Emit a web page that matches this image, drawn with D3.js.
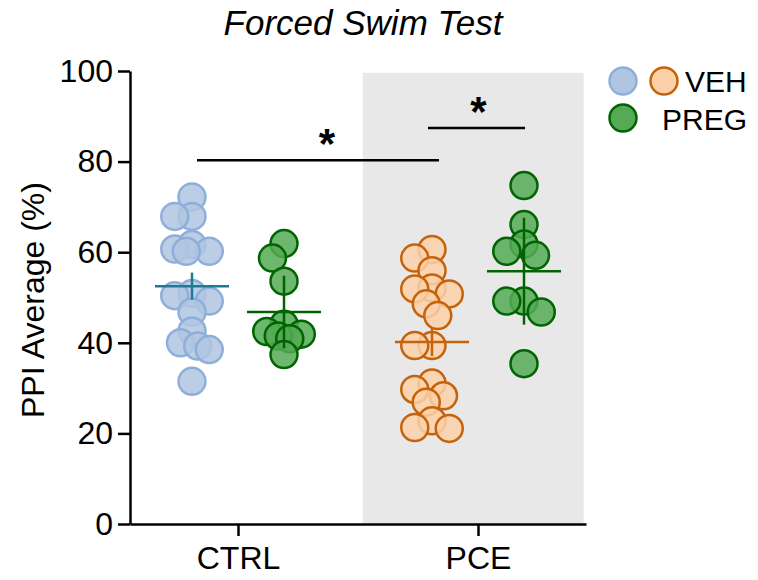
<!DOCTYPE html>
<html>
<head>
<meta charset="utf-8">
<script src="https://cdn.jsdelivr.net/npm/d3@7"></script>
<style>
  body { margin: 0; background: #fff; }
  svg { font-family: "Liberation Sans", Arial, sans-serif; }
</style>
</head>
<body>
<svg id="chart" width="758" height="580"></svg>
<script>
// values
var groups = ["CTRL", "PCE"];
var treatments = ["VEH", "PREG"];
var ctrlVeh = [72.2, 67.9, 67.9, 60.7, 61.7, 60.2, 60.2, 50.9, 49.2, 50.4, 46.8, 42.6, 39.3, 38.5, 40.0, 31.5];
var ctrlPreg = [61.9, 58.7, 53.6, 44.1, 42.5, 40.9, 41.9, 41.5, 37.4];
var pceVeh = [60.6, 58.7, 55.9, 50.8, 52.1, 51.9, 48.6, 46.0, 39.4, 39.4, 31.1, 29.7, 28.3, 26.9, 22.8, 21.3, 21.1];
var pcePreg = [74.7, 66.1, 61.8, 59.3, 60.2, 49.2, 49.2, 46.8, 35.4];
var means = [52.5, 46.8, 40.2, 55.8];
var errors = [3.0, 8.0, 3.1, 11.8];
var yTicks = [0, 20, 40, 60, 80, 100];
var sigBars = [
  {from: ["CTRL", "VEH"], to: ["PCE", "VEH"], y: 80.3},
  {from: ["PCE", "VEH"], to: ["PCE", "PREG"], y: 87.4}
];

var fills = {VEH: {CTRL: "#b0c5e1", PCE: "#fcd1aa"}, PREG: {CTRL: "#55aa55", PCE: "#55aa55"}};
var strokes = {VEH: {CTRL: "#8eafda", PCE: "#c6630a"}, PREG: {CTRL: "#006400", PCE: "#006400"}};
var meanColors = {VEH: {CTRL: "#1b7b92", PCE: "#c6630a"}, PREG: {CTRL: "#006400", PCE: "#006400"}};

var sets = [
  {g: "CTRL", t: "VEH", vals: ctrlVeh},
  {g: "CTRL", t: "PREG", vals: ctrlPreg},
  {g: "PCE", t: "VEH", vals: pceVeh},
  {g: "PCE", t: "PREG", vals: pcePreg}
];

var svg = d3.select("#chart");
var R = 13.5;

var x = d3.scalePoint().domain(groups).range([130, 586]).padding(0.45);
var xt = d3.scalePoint().domain(treatments).range([-46, 46]);
var y = d3.scaleLinear().domain([0, 100]).range([524, 71]);

function xPos(g, t) { return x(g) + xt(t); }

// shaded PCE panel
svg.append("rect")
  .attr("x", x("PCE") - x.step() * 0.48)
  .attr("y", y(99.6))
  .attr("width", x.step() * 0.92)
  .attr("height", y(0) - y(99.6))
  .attr("fill", "#e8e8e8");

// simple swarm: columns around the group centre
function swarm(vals) {
  var cands = [0, -5.75, 5.75, -11.5, 11.5, -17.25, 17.25];
  var D = 16;
  var placed = [];
  var order = vals.map(function(v, i) { return {v: v, i: i}; })
    .sort(function(a, b) { return b.v - a.v; });
  var out = [];
  order.forEach(function(p) {
    var py = y(p.v);
    var best = null, bestD = -1;
    for (var k = 0; k < cands.length; k++) {
      var md = Infinity;
      placed.forEach(function(q) {
        var d = Math.hypot(q.dx - cands[k], q.py - py);
        if (d < md) md = d;
      });
      if (md >= D) { best = cands[k]; break; }
      if (md > bestD) { bestD = md; best = cands[k]; }
    }
    placed.push({dx: best, py: py});
    out.push({v: p.v, dx: best});
  });
  return out;
}

sets.forEach(function(s, i) {
  var cx = xPos(s.g, s.t);
  var pts = swarm(s.vals);
  svg.append("g").selectAll("circle")
    .data(pts)
    .enter().append("circle")
    .attr("cx", function(d) { return cx + d.dx; })
    .attr("cy", function(d) { return y(d.v); })
    .attr("r", R)
    .attr("fill", fills[s.t][s.g])
    .attr("fill-opacity", 0.85)
    .attr("stroke", strokes[s.t][s.g])
    .attr("stroke-width", 2.5);

  var c = meanColors[s.t][s.g];
  svg.append("line")
    .attr("x1", cx - 37).attr("x2", cx + 37)
    .attr("y1", y(means[i])).attr("y2", y(means[i]))
    .attr("stroke", c).attr("stroke-width", 2.5);
  svg.append("line")
    .attr("x1", cx).attr("x2", cx)
    .attr("y1", y(means[i] + errors[i])).attr("y2", y(means[i] - errors[i]))
    .attr("stroke", c).attr("stroke-width", 2.5);
});

// axes
var yAxis = svg.append("g")
  .attr("transform", "translate(130,0)")
  .call(d3.axisLeft(y).tickValues(yTicks).tickSize(12).tickSizeOuter(0).tickPadding(5));
var xAxis = svg.append("g")
  .attr("transform", "translate(0,524)")
  .call(d3.axisBottom(x).tickSize(12).tickSizeOuter(0).tickPadding(10));
[yAxis, xAxis].forEach(function(a) {
  a.selectAll("path, line").attr("stroke", "#000").attr("stroke-width", 2.5);
  a.selectAll("text").attr("font-size", 32).attr("fill", "#000")
    .attr("font-family", "Liberation Sans, Arial, sans-serif");
});

// significance bars (small pixel nudges to sit like the original)
var barEnds = [[5, 7], [-4, 1]];
var starShift = [9, 2];
sigBars.forEach(function(b, i) {
  var x1 = xPos(b.from[0], b.from[1]) + barEnds[i][0];
  var x2 = xPos(b.to[0], b.to[1]) + barEnds[i][1];
  svg.append("line")
    .attr("x1", x1).attr("x2", x2)
    .attr("y1", y(b.y)).attr("y2", y(b.y))
    .attr("stroke", "#000").attr("stroke-width", 2.5);
  svg.append("text")
    .attr("x", (x1 + x2) / 2 + starShift[i])
    .attr("y", y(b.y) - 2)
    .attr("text-anchor", "middle")
    .attr("font-size", 42)
    .attr("font-weight", "bold")
    .text("*");
});

// title and axis label
svg.append("text")
  .attr("x", 363).attr("y", 35)
  .attr("text-anchor", "middle")
  .attr("font-size", 35)
  .attr("font-style", "italic")
  .text("Forced Swim Test");

svg.append("text")
  .attr("transform", "translate(44,300) rotate(-90)")
  .attr("text-anchor", "middle")
  .attr("font-size", 32)
  .text("PPI Average (%)");

// legend
var legend = svg.append("g");
var legItems = [
  {cx: 623, cy: 81, fill: fills.VEH.CTRL, stroke: strokes.VEH.CTRL},
  {cx: 664, cy: 81, fill: fills.VEH.PCE, stroke: strokes.VEH.PCE},
  {cx: 623, cy: 118, fill: fills.PREG.CTRL, stroke: strokes.PREG.CTRL}
];
legend.selectAll("circle").data(legItems).enter().append("circle")
  .attr("cx", function(d) { return d.cx; })
  .attr("cy", function(d) { return d.cy; })
  .attr("r", R)
  .attr("fill", function(d) { return d.fill; })
  .attr("stroke", function(d) { return d.stroke; })
  .attr("stroke-width", 2.5);
legend.append("text").attr("x", 685).attr("y", 92).attr("font-size", 30).text(treatments[0]);
legend.append("text").attr("x", 662).attr("y", 130).attr("font-size", 30).text(treatments[1]);
</script>
</body>
</html>
